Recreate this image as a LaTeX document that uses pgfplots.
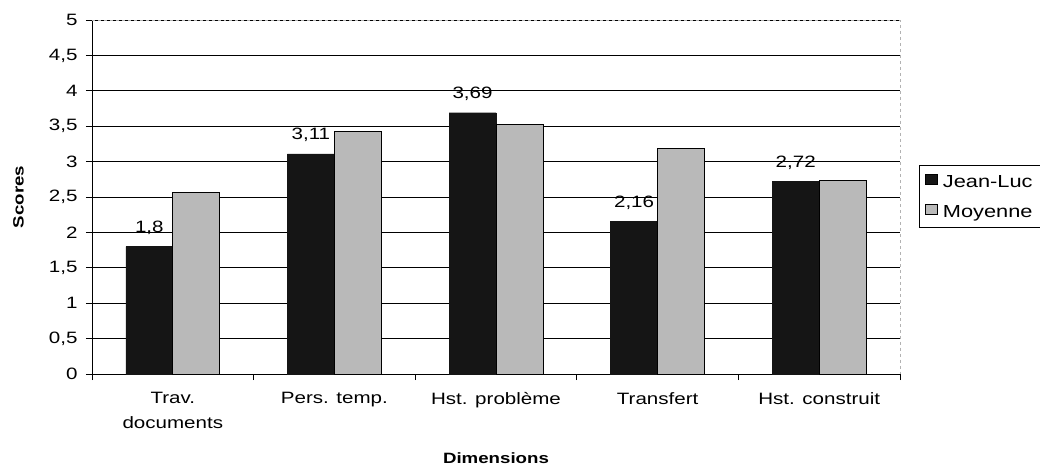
\documentclass[border=0pt]{standalone}
\usepackage{pgfplots}
\pgfplotsset{compat=1.18}
\usepackage{fontspec}
\setmainfont[FakeStretch=1.25]{Liberation Sans}
\definecolor{jl}{HTML}{151515}
\definecolor{moy}{HTML}{B9B9B9}
\begin{document}
\begin{tikzpicture}
\useasboundingbox (0,0) rectangle (1040bp,466bp);
\begin{axis}[
  at={(92bp,92bp)}, anchor=south west,
  scale only axis, width=808bp, height=354bp,
  ybar=0pt, bar width=47bp,
  ymin=0, ymax=5, ytick={0,0.5,...,5},
  xmin=-0.5, xmax=4.5,
  xtick={0,...,4},
  xticklabels={{Trav.\\documents},{Pers. temp.},{Hst. problème},{Transfert},{Hst. construit}},
  minor xtick={-0.5,0.5,...,4.5},
  major x tick style={draw=none},
  minor tick length=6bp, major tick length=6bp,
  tick align=outside,
  axis x line*=bottom, axis y line*=left,
  axis line style={black, line width=0.8bp},
  every tick/.style={black, line width=0.8bp},
  ymajorgrids, grid style={black, line width=0.8bp},
  /pgf/number format/use comma,
  /pgf/number format/assume math mode=true,
  yticklabel style={font=\fontsize{16.5}{19}\selectfont, xshift=-5bp},
  xticklabel style={font=\fontsize{16.5}{25}\selectfont, align=center, yshift=-9bp},
  ylabel={\textbf{Scores}},
  ylabel style={font=\fontsize{15}{17}\selectfont, at={(axis description cs:-0.091,0.5)}, anchor=center},
  xlabel={\textbf{Dimensions}},
  xlabel style={font=\fontsize{15}{17}\selectfont, at={(axis description cs:0.5,0)}, anchor=center, yshift=-84bp},
  legend style={at={(axis description cs:1.0235,0.59)}, anchor=north west,
    draw=black, line width=0.8bp, font=\fontsize{17.5}{20}\selectfont,
    nodes={text depth=0bp},
    row sep=14bp, inner xsep=6bp, inner ysep=8bp,
    /tikz/every even column/.append style={column sep=0bp},
    /tikz/every odd column/.append style={column sep=3bp}},
  legend cell align=left,
  legend image code/.code={\draw[#1, draw=black, line width=0.5bp] (0bp,-3bp) rectangle (12bp,7bp);},
  clip=false,
]
\draw[gray!60, line width=0.8bp, dashed] (rel axis cs:0,1) -- (rel axis cs:1,1) -- (rel axis cs:1,0);
\addplot[fill=jl, draw=jl,
  nodes near coords,
  every node near coord/.append style={black, font=\fontsize{16.5}{19}\selectfont, anchor=base, yshift=14bp},
  /pgf/number format/precision=2]
  coordinates {(0,1.8) (1,3.11) (2,3.69) (3,2.16) (4,2.72)};
\addlegendentry{Jean-Luc}
\addplot[fill=moy, draw=black, line width=0.8bp]
  coordinates {(0,2.57) (1,3.42) (2,3.52) (3,3.19) (4,2.73)};
\addlegendentry{Moyenne}
\end{axis}
\end{tikzpicture}
\end{document}
